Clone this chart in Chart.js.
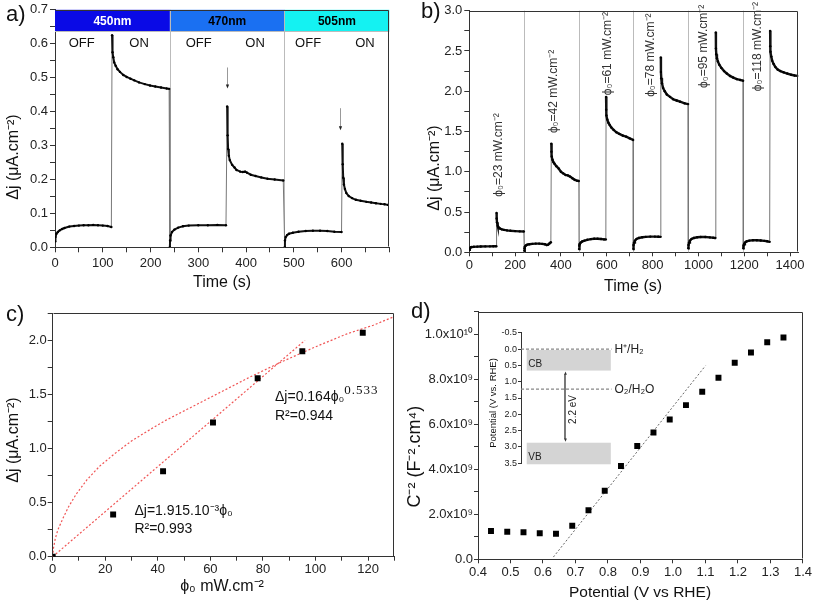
<!DOCTYPE html>
<html>
<head>
<meta charset="utf-8">
<script src="https://cdn.jsdelivr.net/npm/chart.js@4.4.0/dist/chart.umd.min.js"></script>
<style>
body { margin: 0; background: #fff; width: 813px; height: 609px; position: relative; overflow: hidden; }
canvas { position: absolute; }
</style>
</head>
<body>
<canvas id="ca" width="406" height="300" style="left:0;top:0"></canvas>
<canvas id="cb" width="407" height="300" style="left:406px;top:0"></canvas>
<canvas id="cc" width="406" height="309" style="left:0;top:300px"></canvas>
<canvas id="cd" width="407" height="309" style="left:406px;top:300px"></canvas>
<canvas id="ci" width="215" height="160" style="left:460px;top:320px"></canvas>
<script>
const FONT = '"Liberation Sans", Arial, sans-serif';

// ---- a) photocurrent under the three LEDs (time s, current uA/cm2)
const aBands = ['450nm', '470nm', '505nm'];
const aBandEdges = [0, 240.5, 480.5, 700];
const aBandBottom = 0.637;
const aLabels = ['OFF', 'ON', 'OFF', 'ON', 'OFF', 'ON'];
const aLabelX = [56, 176, 301, 419, 530, 649];
const aLabelY = 0.6;
const aArrows = [[361, 0.53, 0.468], [596, 0.41, 0.345]];
const aOff1 = [[0,0.018],[1,0.03],[3,0.04],[6,0.045],[10,0.05],[15,0.054],[20,0.057],[30,0.061],[40,0.063],[50,0.064],[60,0.065],[70,0.065],[80,0.066],[90,0.065],[100,0.064],[110,0.063],[118,0.06]];
const aOn1 = [[119.5,0.625],[120.5,0.575],[122,0.56],[124,0.545],[127,0.535],[131,0.525],[136,0.517],[143,0.508],[150,0.502],[158,0.497],[166,0.492],[176,0.486],[188,0.481],[199,0.477],[210,0.474],[222,0.471],[234,0.468],[239,0.467]];
const aOff2 = [[240.5,0.0],[241,0.02],[242,0.035],[245,0.045],[250,0.052],[258,0.058],[268,0.062],[280,0.064],[300,0.065],[320,0.065],[340,0.066],[358,0.065]];
const aOn2 = [[360.5,0.415],[361.5,0.33],[362.5,0.29],[364,0.27],[366,0.257],[371,0.243],[376,0.235],[380,0.228],[388,0.223],[393,0.222],[398,0.223],[402,0.22],[410,0.214],[420,0.21],[432,0.206],[445,0.202],[460,0.2],[478,0.197]];
const aOff3 = [[481,0.0],[481.5,0.02],[483,0.03],[486,0.036],[490,0.04],[498,0.043],[510,0.046],[525,0.048],[540,0.049],[555,0.049],[570,0.048],[585,0.046],[600,0.045]];
const aOn3 = [[601.5,0.305],[602.5,0.245],[603.5,0.205],[605,0.185],[607,0.172],[610,0.16],[615,0.151],[622,0.145],[630,0.14],[640,0.137],[652,0.134],[662,0.132],[672,0.13],[682,0.128],[690,0.127],[697,0.125]];

// ---- b) photocurrent vs light intensity steps
const bSeparators = [240, 479, 716, 956, 1196];
const bPower = [23, 42, 61, 78, 95, 118];
const bLabelX = [129, 368, 605, 793, 1025, 1260];
const bLabelY = [0.69, 1.48, 1.95, 1.93, 2.04, 2.0];
const bOff1 = [[0,0.03],[1,0.045],[3,0.055],[6,0.06],[10,0.065],[20,0.068],[35,0.07],[50,0.072],[70,0.073],[90,0.074],[105,0.075],[118,0.076]];
const bOn1 = [[119,0.49],[119.5,0.42],[121,0.37],[124,0.33],[128,0.31],[134,0.295],[142,0.285],[152,0.278],[165,0.272],[180,0.267],[200,0.263],[220,0.26],[238,0.258]];
const bOff2 = [[240,0.02],[241,0.05],[243,0.07],[247,0.085],[253,0.095],[262,0.1],[275,0.105],[290,0.108],[305,0.108],[318,0.105],[330,0.1],[338,0.09],[344,0.095],[350,0.11],[356,0.125]];
const bOn2 = [[358,1.35],[358.5,1.25],[360,1.19],[363,1.15],[367,1.12],[372,1.1],[380,1.07],[390,1.04],[400,1.0],[410,0.98],[420,0.96],[430,0.955],[440,0.94],[450,0.92],[460,0.9],[470,0.89],[478,0.885]];
const bOff3 = [[479,0.04],[480,0.08],[482,0.1],[486,0.12],[493,0.135],[503,0.145],[515,0.155],[530,0.163],[545,0.168],[560,0.168],[575,0.165],[588,0.16],[596,0.16]];
const bOn3 = [[597,1.93],[597.5,1.77],[599,1.7],[602,1.65],[607,1.61],[613,1.58],[620,1.55],[630,1.52],[642,1.49],[655,1.47],[670,1.45],[685,1.435],[700,1.415],[715,1.395]];
const bOff4 = [[716,0.04],[717,0.09],[719,0.12],[723,0.145],[730,0.165],[740,0.178],[755,0.187],[770,0.192],[790,0.195],[810,0.195],[825,0.193],[835,0.192]];
const bOn4 = [[836,2.42],[836.5,2.24],[838,2.16],[841,2.1],[846,2.04],[853,2.0],[862,1.96],[876,1.93],[890,1.9],[905,1.885],[920,1.87],[940,1.85],[955,1.84]];
const bOff5 = [[956,0.05],[957,0.09],[959,0.12],[963,0.145],[970,0.165],[980,0.178],[995,0.187],[1010,0.19],[1030,0.19],[1050,0.185],[1065,0.18],[1074,0.178]];
const bOn5 = [[1076,2.73],[1076.5,2.53],[1078,2.46],[1081,2.41],[1085,2.37],[1091,2.33],[1100,2.29],[1112,2.25],[1124,2.22],[1138,2.19],[1152,2.17],[1168,2.15],[1182,2.14],[1195,2.13]];
const bOff6 = [[1196,0.05],[1197,0.08],[1199,0.1],[1203,0.12],[1210,0.135],[1222,0.145],[1238,0.15],[1255,0.15],[1272,0.147],[1288,0.142],[1300,0.137],[1311,0.13]];
const bOn6 = [[1313,2.75],[1313.5,2.56],[1315,2.49],[1318,2.43],[1322,2.38],[1328,2.34],[1336,2.3],[1346,2.27],[1358,2.25],[1372,2.235],[1388,2.22],[1405,2.205],[1420,2.195],[1434,2.19]];

// ---- c) steady current vs intensity + fits
const cPhi = [0, 23, 42, 61, 78, 95, 118];
const cDj = [0, 0.39, 0.79, 1.24, 1.65, 1.90, 2.07];
const cLinFit = [[0,0],[96,2.0]];
const cPowFit = [[0,0],[0.3,0.08],[1,0.17],[2,0.25],[4,0.36],[6,0.46],[9,0.58],[13,0.71],[18,0.84],[24,0.96],[30,1.07],[36,1.16],[43,1.26],[51,1.36],[59,1.46],[67,1.56],[75,1.66],[87,1.8],[100,1.94],[112,2.06],[122,2.14],[130,2.22]];

// ---- d) Mott-Schottky
const dV = [0.44,0.49,0.54,0.59,0.64,0.69,0.74,0.79,0.84,0.89,0.94,0.99,1.04,1.09,1.14,1.19,1.24,1.29,1.34];
const dC = [1.257e9,1.228e9,1.198e9,1.154e9,1.139e9,1.494e9,2.175e9,3.047e9,4.142e9,5.03e9,5.636e9,6.213e9,6.849e9,7.441e9,8.062e9,8.728e9,9.186e9,9.645e9,9.852e9];
const dFit = [[0.632,0.1e9],[1.1,8.6e9]];

// ---- d inset: band diagram (V vs RHE)
const insetCB = [0.03, 0.66];
const insetVB = [2.87, 3.53];
const insetLevels = [0.0, 1.23];
const insetLevelNames = ['H⁺/H₂', 'O₂/H₂O'];
const insetGap = [0.69, 2.84];

function pts(arr) { return arr.map(p => ({ x: p[0], y: p[1] })); }

function trace(segs, w) {
  const data = [], cuts = new Set();
  segs.forEach(s => { s.forEach(p => data.push({ x: p[0], y: p[1] })); cuts.add(data.length - 1); });
  return {
    data, showLine: true, borderColor: '#111', borderWidth: w, pointRadius: 1.2,
    pointBackgroundColor: '#000', pointBorderWidth: 0,
    segment: {
      borderColor: c => cuts.has(c.p0DataIndex) ? '#777' : undefined,
      borderWidth: c => cuts.has(c.p0DataIndex) ? 1 : undefined
    }
  };
}

function axisOpts(o) {
  const isMajor = v => Math.abs(v / o.major - Math.round(v / o.major)) < 1e-6;
  return {
    type: 'linear', min: o.min, max: o.max, reverse: !!o.reverse, display: o.display !== false,
    afterBuildTicks(ax) {
      const t = [], n = Math.round((o.max - o.min) / o.minor);
      for (let i = 0; i <= n; i++) t.push({ value: o.min + i * o.minor });
      ax.ticks = t;
    },
    afterFit(ax) { if (o.isX) ax.height = o.size; else ax.width = o.size; },
    border: { display: true, color: '#333', width: 1 },
    grid: { drawOnChartArea: false, drawTicks: true, tickLength: o.tickLen || 5, color: '#333', lineWidth: 1 },
    ticks: {
      autoSkip: false, maxRotation: 0, minRotation: 0, padding: o.pad == null ? 2 : o.pad, color: '#222',
      font: { family: FONT, size: o.font || 13 },
      callback: v => (isMajor(v) && v <= o.labelMax + 1e-9) ? o.fmt(v) : ''
    }
  };
}

const f1 = v => v.toFixed(1);
const f0 = v => String(Math.round(v));
const fSci = v => {
  if (Math.abs(v) < 1) return '0.0';
  if (v >= 1e10 - 1) return (v / 1e10).toFixed(1) + 'x10¹⁰';
  return (v / 1e9).toFixed(1) + 'x10⁹';
};

// frame, panel letter, axis titles
const deco = {
  id: 'deco',
  afterDraw(ch, args, o) {
    const ctx = ch.ctx, ca = ch.chartArea;
    ctx.save();
    if (o.frame) {
      ctx.strokeStyle = '#333'; ctx.lineWidth = 1;
      const l = Math.round(ca.left) + 0.5, t = Math.round(ca.top) + 0.5;
      const r = Math.round(ca.right) - 0.5, b = Math.round(ca.bottom) - 0.5;
      ctx.beginPath(); ctx.moveTo(l, t); ctx.lineTo(r, t); ctx.lineTo(r, b); ctx.stroke();
    }
    ctx.fillStyle = '#111';
    if (o.label) {
      ctx.font = '22px ' + FONT; ctx.textAlign = 'left'; ctx.textBaseline = 'alphabetic';
      ctx.fillText(o.label[0], o.label[1], o.label[2]);
    }
    ctx.textAlign = 'center'; ctx.textBaseline = 'middle';
    if (o.xTitle) {
      ctx.font = o.xTitle[3] + 'px ' + FONT;
      ctx.fillText(o.xTitle[0], o.xTitle[1], o.xTitle[2]);
    }
    if (o.yTitle) {
      ctx.font = o.yTitle[3] + 'px ' + FONT;
      ctx.translate(o.yTitle[1], o.yTitle[2]); ctx.rotate(-Math.PI / 2);
      ctx.fillText(o.yTitle[0], 0, 0);
    }
    ctx.restore();
  }
};

function makeChart(id, datasets, x, y, pad, decoOpts, extra) {
  return new Chart(document.getElementById(id), {
    type: 'scatter',
    data: { datasets },
    options: {
      responsive: false, animation: false, devicePixelRatio: 1, events: [],
      layout: { autoPadding: false, padding: pad },
      plugins: { legend: { display: false }, tooltip: { enabled: false }, deco: decoOpts },
      scales: { x, y }
    },
    plugins: [deco].concat(extra || [])
  });
}

function arrowHead(ctx, x, y, dir, s) {
  ctx.beginPath(); ctx.moveTo(x, y); ctx.lineTo(x - s * 0.55, y - dir * s * 1.3); ctx.lineTo(x + s * 0.55, y - dir * s * 1.3);
  ctx.closePath(); ctx.fill();
}

// ---------- a)
const aBandColors = ['#0a0ae6', '#1a70f2', '#14f2f2'];
const aExtra = {
  id: 'aExtra',
  beforeDatasetsDraw(ch) {
    const { ctx, chartArea: ca } = ch, X = ch.scales.x, Y = ch.scales.y;
    ctx.save();
    const yt = Y.getPixelForValue(0.7), yb = Y.getPixelForValue(aBandBottom);
    aBands.forEach((name, i) => {
      const x0 = X.getPixelForValue(aBandEdges[i]), x1 = X.getPixelForValue(aBandEdges[i + 1]);
      ctx.fillStyle = aBandColors[i]; ctx.fillRect(x0, yt, x1 - x0, yb - yt);
      ctx.fillStyle = i === 0 ? '#fff' : '#000'; ctx.font = 'bold 12px ' + FONT;
      ctx.textAlign = 'center'; ctx.textBaseline = 'middle';
      ctx.fillText(name, (x0 + x1) / 2, (yt + yb) / 2 + 1);
    });
    ctx.strokeStyle = '#bbb'; ctx.lineWidth = 1;
    ctx.beginPath(); ctx.moveTo(ca.left, Math.round(yb) + 0.5); ctx.lineTo(ca.right, Math.round(yb) + 0.5); ctx.stroke();
    aBandEdges.slice(1, -1).forEach(v => {
      const x = Math.round(X.getPixelForValue(v)) + 0.5;
      ctx.beginPath(); ctx.moveTo(x, yt); ctx.lineTo(x, ca.bottom); ctx.stroke();
    });
    ctx.fillStyle = '#111'; ctx.font = '13px ' + FONT; ctx.textAlign = 'center'; ctx.textBaseline = 'middle';
    aLabels.forEach((t, i) => ctx.fillText(t, X.getPixelForValue(aLabelX[i]), Y.getPixelForValue(aLabelY)));
    aArrows.forEach(a => {
      const x = Math.round(X.getPixelForValue(a[0])) + 0.5, y0 = Y.getPixelForValue(a[1]), y1 = Y.getPixelForValue(a[2]);
      ctx.strokeStyle = '#999'; ctx.beginPath(); ctx.moveTo(x, y0); ctx.lineTo(x, y1 - 3); ctx.stroke();
      ctx.fillStyle = '#222'; arrowHead(ctx, x, y1, 1, 3);
    });
    ctx.restore();
  }
};
makeChart('ca',
  [trace([aOff1, aOn1, aOff2, aOn2, aOff3, aOn3], 2)],
  axisOpts({ min: 0, max: 700, minor: 50, major: 100, fmt: f0, labelMax: 600, size: 52.7, isX: true, pad: 3 }),
  axisOpts({ min: 0, max: 0.7, minor: 0.05, major: 0.1, fmt: f1, labelMax: 0.7, size: 55, pad: 2 }),
  { top: 9.3, right: 16.7, left: 0, bottom: 0 },
  { frame: true, label: ['a)', 6, 21], xTitle: ['Time (s)', 222, 283, 16], yTitle: ['Δj (μA.cm⁻²)', 14, 157, 16] },
  [aExtra]);

// ---------- b)
const bExtra = {
  id: 'bExtra',
  beforeDatasetsDraw(ch) {
    const { ctx, chartArea: ca } = ch, X = ch.scales.x, Y = ch.scales.y;
    ctx.save();
    ctx.strokeStyle = '#bbb'; ctx.lineWidth = 1;
    bSeparators.forEach(v => {
      const x = Math.round(X.getPixelForValue(v)) + 0.5;
      ctx.beginPath(); ctx.moveTo(x, ca.top); ctx.lineTo(x, ca.bottom); ctx.stroke();
    });
    ctx.fillStyle = '#333'; ctx.font = '12px ' + FONT; ctx.textAlign = 'left'; ctx.textBaseline = 'middle';
    bPower.forEach((p, i) => {
      ctx.save();
      ctx.translate(X.getPixelForValue(bLabelX[i]), Y.getPixelForValue(bLabelY[i]));
      ctx.rotate(-Math.PI / 2);
      ctx.fillText('ϕ₀=' + p + ' mW.cm⁻²', 0, 0);
      ctx.restore();
    });
    ctx.restore();
  }
};
makeChart('cb',
  [trace([bOff1, bOn1, bOff2, bOn2, bOff3, bOn3, bOff4, bOn4, bOff5, bOn5, bOff6, bOn6], 2.4)],
  axisOpts({ min: 0, max: 1436, minor: 100, major: 200, fmt: f0, labelMax: 1400, size: 47.7, isX: true, tickLen: 4, pad: 1 }),
  axisOpts({ min: 0, max: 3, minor: 0.25, major: 0.5, fmt: f1, labelMax: 3, size: 63.3, pad: 2 }),
  { top: 10.7, right: 14.7, left: 0, bottom: 0 },
  { frame: true, label: ['b)', 15, 18], xTitle: ['Time (s)', 227, 287, 16], yTitle: ['Δj (μA.cm⁻²)', 29, 168, 16] },
  [bExtra]);

// ---------- c)
const cExtra = {
  id: 'cExtra',
  afterDatasetsDraw(ch) {
    const ctx = ch.ctx, X = ch.scales.x, Y = ch.scales.y;
    ctx.save();
    ctx.fillStyle = '#111'; ctx.textAlign = 'left'; ctx.textBaseline = 'alphabetic';
    let x = X.getPixelForValue(84.6), y = Y.getPixelForValue(1.44);
    ctx.font = '14px ' + FONT;
    const t1 = 'Δj=0.164ϕ₀';
    ctx.fillText(t1, x, y);
    const w = ctx.measureText(t1).width;
    ctx.font = '13px "Liberation Serif", serif';
    ctx.letterSpacing = '1px';
    ctx.fillText('0.533', x + w, y - 7);
    ctx.letterSpacing = '0px';
    ctx.font = '14px ' + FONT;
    ctx.fillText('R²=0.944', x, Y.getPixelForValue(1.266));
    x = X.getPixelForValue(31.1);
    ctx.fillText('Δj=1.915.10⁻³ϕ₀', x, Y.getPixelForValue(0.386));
    ctx.fillText('R²=0.993', x, Y.getPixelForValue(0.217));
    ctx.restore();
  }
};
const redFit = { showLine: true, borderColor: '#f05555', borderWidth: 1.2, borderDash: [2, 2], pointRadius: 0 };
makeChart('cc',
  [
    { data: cPhi.map((v, i) => ({ x: v, y: cDj[i] })), pointStyle: 'rect', pointRadius: 4.2, backgroundColor: '#000', borderWidth: 0 },
    Object.assign({ data: pts(cLinFit) }, redFit),
    Object.assign({ data: pts(cPowFit) }, redFit)
  ],
  axisOpts({ min: 0, max: 130, minor: 10, major: 20, fmt: f0, labelMax: 120, size: 52.3, isX: true, tickLen: 4, pad: 1 }),
  axisOpts({ min: 0, max: 2.25, minor: 0.25, major: 0.5, fmt: f1, labelMax: 2.0, size: 52.7, pad: 1 }),
  { top: 13.3, right: 11.7, left: 0, bottom: 0 },
  { frame: true, label: ['c)', 6, 21], xTitle: ['ϕ₀ mW.cm⁻²', 222, 286.7, 16], yTitle: ['Δj (μA.cm⁻²)', 14, 140, 16] },
  [cExtra]);

// ---------- d)
makeChart('cd',
  [
    { data: dV.map((v, i) => ({ x: v, y: dC[i] })), pointStyle: 'rect', pointRadius: 4.2, backgroundColor: '#000', borderWidth: 0 },
    { data: pts(dFit), showLine: true, borderColor: '#666', borderWidth: 1, borderDash: [2, 2], pointRadius: 0 }
  ],
  axisOpts({ min: 0.4, max: 1.4, minor: 0.1, major: 0.1, fmt: f1, labelMax: 1.4, size: 49.7, isX: true, tickLen: 4, pad: 1 }),
  axisOpts({ min: 0, max: 1.1e10, minor: 1e9, major: 2e9, fmt: fSci, labelMax: 1e10, size: 72, tickLen: 4, pad: 1 }),
  { top: 11.7, right: 9, left: 0, bottom: 0 },
  { frame: true, label: ['d)', 5, 18], xTitle: ['Potential (V vs RHE)', 234, 292.7, 15.5], yTitle: ['C⁻² (F⁻².cm⁴)', 9, 156.7, 18] });

// ---------- d) inset
const insetExtra = {
  id: 'insetExtra',
  beforeDatasetsDraw(ch) {
    const ctx = ch.ctx, X = ch.scales.x, Y = ch.scales.y;
    ctx.save();
    ctx.fillStyle = '#d4d4d4';
    [insetCB, insetVB].forEach(b => {
      const x0 = X.getPixelForValue(0.063), x1 = X.getPixelForValue(0.99);
      const y0 = Y.getPixelForValue(b[0]), y1 = Y.getPixelForValue(b[1]);
      ctx.fillRect(x0, y0, x1 - x0, y1 - y0);
    });
    ctx.restore();
  },
  afterDatasetsDraw(ch) {
    const ctx = ch.ctx, X = ch.scales.x, Y = ch.scales.y;
    ctx.save();
    ctx.fillStyle = '#333';
    const ax = Math.round(X.getPixelForValue(0.485)) + 0.5;
    arrowHead(ctx, ax, Y.getPixelForValue(insetGap[0]), -1, 2.5);
    arrowHead(ctx, ax, Y.getPixelForValue(insetGap[1]), 1, 2.5);
    ctx.fillStyle = '#222'; ctx.textAlign = 'left'; ctx.textBaseline = 'middle';
    ctx.font = '10px ' + FONT;
    ctx.fillText('CB', X.getPixelForValue(0.08), Y.getPixelForValue(0.47));
    ctx.fillText('VB', X.getPixelForValue(0.08), Y.getPixelForValue(3.33));
    ctx.font = '12px ' + FONT;
    insetLevels.forEach((v, i) => ctx.fillText(insetLevelNames[i], X.getPixelForValue(1.03), Y.getPixelForValue(v) + 1));
    ctx.font = '10px ' + FONT; ctx.textAlign = 'center';
    ctx.translate(X.getPixelForValue(0.577), Y.getPixelForValue(1.85)); ctx.rotate(-Math.PI / 2);
    ctx.fillText('2.2 eV', 0, 0);
    ctx.restore();
  }
};
const insetAxis = axisOpts({ min: -0.5, max: 3.5, minor: 0.5, major: 0.5, fmt: f1, labelMax: 3.5, size: 61, tickLen: 3, pad: 1, font: 9, reverse: true });
makeChart('ci',
  [
    ...insetLevels.map(v => ({ data: [{ x: 0, y: v }, { x: 1, y: v }], showLine: true, borderColor: '#888', borderWidth: 1.2, borderDash: [3, 2], pointRadius: 0 })),
    { data: [{ x: 0.485, y: insetGap[0] + 0.08 }, { x: 0.485, y: insetGap[1] - 0.08 }], showLine: true, borderColor: '#666', borderWidth: 1, pointRadius: 0 }
  ],
  { type: 'linear', min: 0, max: 1, display: false },
  insetAxis,
  { top: 12.7, right: 63.3, left: 0, bottom: 16.7 },
  { frame: false, yTitle: ['Potential (V vs. RHE)', 33, 83, 9.5] },
  [insetExtra]);
</script>
</body>
</html>
